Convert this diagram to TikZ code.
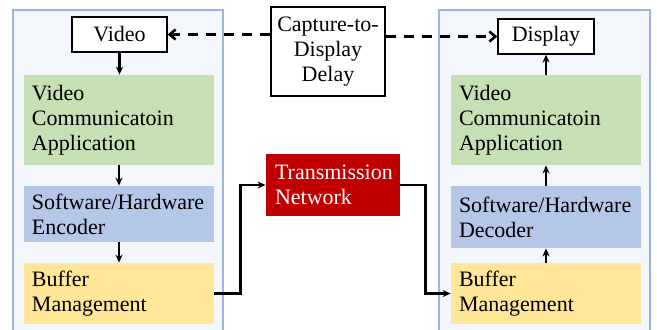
\documentclass[tikz,border=0pt]{standalone}
\usepackage{fontspec}
\setmainfont{Liberation Serif}
\definecolor{vcGreen}{HTML}{C5E0B4}
\definecolor{vcBlue}{HTML}{B4C7E7}
\definecolor{vcYellow}{HTML}{FFE699}
\definecolor{vcRed}{HTML}{C00000}
\definecolor{vcPanel}{HTML}{F3F7FC}
\definecolor{vcEdge}{HTML}{9DB5DA}
\usetikzlibrary{arrows.meta, positioning, calc}

\begin{document}
\begin{tikzpicture}[x=0.5pt, y=-0.5pt, font=\fontsize{11pt}{12.6pt}\selectfont,
  stage/.style={minimum width=95pt, inner xsep=4pt, inner ysep=0pt,
    text width=87pt, align=left},
  endbox/.style={draw=black, line width=0.6pt, fill=white, inner sep=0pt},
  flow/.style={-{Stealth[length=4pt, width=3.5pt]}, line width=1.3pt},
  delayline/.style={-{Straight Barb[length=3pt, width=5pt]}, line width=1.3pt,
    dash pattern=on 5pt off 4pt}]
  \useasboundingbox (0,0) rectangle (657,329);
  \clip (0,0) rectangle (657,329);

  % sender and receiver panels
  \draw[fill=vcPanel, draw=vcEdge, line width=0.6pt] (13,10) rectangle (223,345);
  \draw[fill=vcPanel, draw=vcEdge, line width=0.6pt] (439,10) rectangle (650,345);

  % sender side
  \node[endbox, minimum width=47.5pt, minimum height=17.5pt] (video) at (119.5,34.5) {Video};
  \node[stage, fill=vcGreen, minimum height=45pt] (encApp) at (119,120)
    {Video\\Communicatoin\\Application};
  \node[stage, fill=vcBlue, minimum height=28pt] (encoder) at (119,214)
    {Software/Hardware\\Encoder};
  \node[stage, fill=vcYellow, minimum height=30.5pt] (encBuf) at (119,293.5)
    {Buffer\\Management};

  % receiver side
  \node[endbox, minimum width=48pt, minimum height=17.5pt] (display) at (546,36.5) {Display};
  \node[stage, fill=vcGreen, minimum height=45pt] (decApp) at (546,120)
    {Video\\Communicatoin\\Application};
  \node[stage, fill=vcBlue, minimum height=31pt] (decoder) at (546,217)
    {Software/Hardware\\Decoder};
  \node[stage, fill=vcYellow, minimum height=30.5pt] (decBuf) at (546,293.5)
    {Buffer\\Management};

  % middle
  \node[endbox, minimum width=57pt, minimum height=44.5pt, align=center] (delay) at (328,51.5)
    {Capture-to-\\Display\\Delay};
  \node[fill=vcRed, text=white, minimum width=67pt, minimum height=31pt,
    inner xsep=4.5pt, text width=58pt, align=left] (net) at (333,185)
    {Transmission\\Network};

  % pipeline arrows
  \draw[flow] (video.south) -- (video.south |- encApp.north);
  \draw[flow] (encApp.south) -- (encoder.north);
  \draw[flow] (encoder.south) -- (encBuf.north);
  \draw[flow] (decBuf.north) -- (decoder.south);
  \draw[flow] (decoder.north) -- (decApp.south);
  \draw[flow] (decApp.north) -- (decApp.north |- display.south);

  \draw[flow] (encBuf.east) -- ++(26,0) |- (net.west);
  \draw[flow] (net.east) -- ++(25,0) |- (decBuf.west);

  % delay
  \draw[delayline] (delay.west |- video.east) -- (video.east);
  \draw[delayline] (delay.east |- display.west) -- (display.west);
\end{tikzpicture}
\end{document}
